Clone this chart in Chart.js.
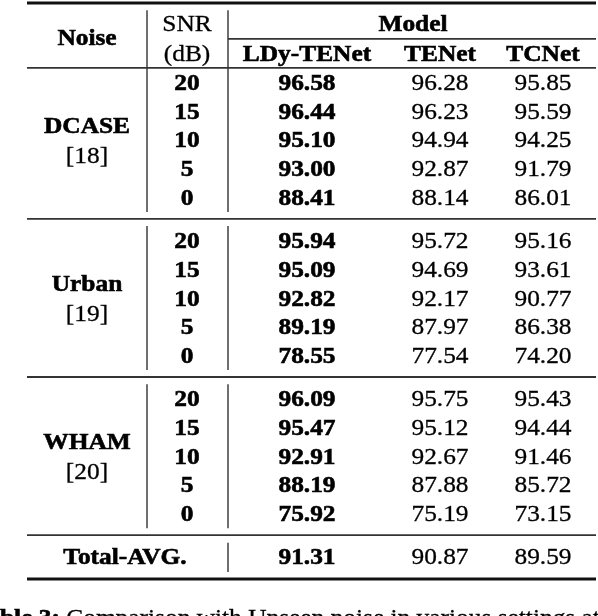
<!DOCTYPE html>
<html>
<head>
<meta charset="utf-8">
<script src="https://cdn.jsdelivr.net/npm/chart.js@4.4.1/dist/chart.umd.min.js"></script>
<style>
  html, body { margin: 0; padding: 0; background: #fff; }
  canvas { display: block; }
</style>
</head>
<body>
<canvas id="tableChart" width="598" height="616"></canvas>
<script>
// table content
const noiseTypes = ['DCASE', 'Urban', 'WHAM'];
const noiseRefs = ['[18]', '[19]', '[20]'];
const snrLevels = ['20', '15', '10', '5', '0'];
const models = ['LDy-TENet', 'TENet', 'TCNet'];
const ldyTenet = [96.58, 96.44, 95.10, 93.00, 88.41, 95.94, 95.09, 92.82, 89.19, 78.55, 96.09, 95.47, 92.91, 88.19, 75.92];
const tenet = [96.28, 96.23, 94.94, 92.87, 88.14, 95.72, 94.69, 92.17, 87.97, 77.54, 95.75, 95.12, 92.67, 87.88, 75.19];
const tcnet = [95.85, 95.59, 94.25, 91.79, 86.01, 95.16, 93.61, 90.77, 86.38, 74.20, 95.43, 94.44, 91.46, 85.72, 73.15];
const totalAvg = [91.31, 90.87, 89.59];
const captionBold = 'Table 3:';
const captionText = ' Comparison with Unseen noise in various settings at different SNRs.';

// layout (x in canvas units, y in row units)
const colX = { noise: 87, snr: 187, ldy: 307, tenet: 440, tcnet: 543, total: 125, model: 413 };
const tableLeft = 27, tableRight = 596, splitA = 147, splitB = 228;
const groupStep = 5.5;
const totalRow = 16.5;
const rowPx = 28.75;
const firstRowPx = 82;
const fontSize = 23.5;
const stretch = 1.08;
const family = '"Liberation Serif", "Times New Roman", serif';

function rowOf(i) {
    return Math.floor(i / 5) * groupStep + (i % 5);
}

function textSet(points, texts, bold) {
    return {
        type: 'scatter',
        data: points,
        texts: texts,
        bold: bold,
        pointRadius: 0,
        showLine: false
    };
}

function ruleSet(x0, x1, y0, y1, width, color) {
    return {
        type: 'line',
        data: [{ x: x0, y: y0 }, { x: x1, y: y1 }],
        borderColor: color,
        borderWidth: width,
        pointRadius: 0,
        clip: false,
        showLine: true
    };
}

const datasets = [];

// horizontal rules
datasets.push(ruleSet(tableLeft, tableRight, -2.75, -2.75, 3, '#111'));
datasets.push(ruleSet(splitB, tableRight, -1.5, -1.5, 1.6, '#333'));
datasets.push(ruleSet(tableLeft, tableRight, -0.49, -0.49, 1.8, '#333'));
[4.76, 10.26, 15.76].forEach(y => datasets.push(ruleSet(tableLeft, tableRight, y, y, 1.8, '#333')));
datasets.push(ruleSet(tableLeft, tableRight, 17.29, 17.29, 3, '#111'));

// vertical rules, broken at group rules
noiseTypes.forEach((n, g) => {
    const top = g === 0 ? -2.5 : g * groupStep - 0.49;
    const bottom = g * groupStep + 4.52;
    datasets.push(ruleSet(splitA, splitA, top, bottom, 1.4, '#333'));
    datasets.push(ruleSet(splitB, splitB, top, bottom, 1.4, '#333'));
});
datasets.push(ruleSet(splitB, splitB, totalRow - 0.47, totalRow + 0.54, 1.4, '#333'));

// header
datasets.push(textSet([{ x: colX.noise, y: -1.58 }], ['Noise'], true));
datasets.push(textSet([{ x: colX.snr, y: -2.05 }, { x: colX.snr, y: -1.02 }], ['SNR', '(dB)'], false));
datasets.push(textSet([{ x: colX.model, y: -2.05 }], ['Model'], true));
datasets.push(textSet([colX.ldy, colX.tenet, colX.tcnet].map(x => ({ x: x, y: -1.02 })), models, true));

// noise group labels
datasets.push(textSet(noiseTypes.map((n, g) => ({ x: colX.noise, y: g * groupStep + 1.5 })), noiseTypes, true));
datasets.push(textSet(noiseRefs.map((n, g) => ({ x: colX.noise, y: g * groupStep + 2.54 })), noiseRefs, false));

// body
const snrCol = ldyTenet.map((v, i) => snrLevels[i % 5]);
datasets.push(textSet(snrCol.map((s, i) => ({ x: colX.snr, y: rowOf(i) })), snrCol, true));
datasets.push(textSet(ldyTenet.map((v, i) => ({ x: colX.ldy, y: rowOf(i) })), ldyTenet.map(v => v.toFixed(2)), true));
datasets.push(textSet(tenet.map((v, i) => ({ x: colX.tenet, y: rowOf(i) })), tenet.map(v => v.toFixed(2)), false));
datasets.push(textSet(tcnet.map((v, i) => ({ x: colX.tcnet, y: rowOf(i) })), tcnet.map(v => v.toFixed(2)), false));

// total row
datasets.push(textSet([{ x: colX.total, y: totalRow }], ['Total-AVG.'], true));
datasets.push(textSet([{ x: colX.ldy, y: totalRow }], [totalAvg[0].toFixed(2)], true));
datasets.push(textSet([colX.tenet, colX.tcnet].map(x => ({ x: x, y: totalRow })), totalAvg.slice(1).map(v => v.toFixed(2)), false));

function drawText(ctx, str, x, y, bold, align) {
    ctx.save();
    ctx.translate(x, y);
    ctx.scale(stretch, 1);
    ctx.font = (bold ? 'bold ' : '') + fontSize + 'px ' + family;
    ctx.fillStyle = '#000';
    ctx.strokeStyle = '#000';
    ctx.lineWidth = bold ? 0.6 : 0.3;
    ctx.textAlign = align || 'center';
    ctx.textBaseline = 'alphabetic';
    ctx.fillText(str, 0, fontSize * 0.34);
    ctx.strokeText(str, 0, fontSize * 0.34);
    ctx.restore();
}

const cellText = {
    id: 'cellText',
    afterDatasetsDraw(chart) {
        const ctx = chart.ctx;
        chart.data.datasets.forEach((ds, di) => {
            if (!ds.texts) return;
            const meta = chart.getDatasetMeta(di);
            meta.data.forEach((pt, i) => drawText(ctx, ds.texts[i], pt.x, pt.y, ds.bold));
        });

        // caption, cut off by the bottom edge
        const y = chart.scales.y.getPixelForValue(18.89) - fontSize * 0.34;
        ctx.save();
        ctx.font = 'bold ' + fontSize + 'px ' + family;
        const skip = ctx.measureText('Ta').width * stretch;
        const boldW = ctx.measureText(captionBold).width * stretch;
        ctx.restore();
        const x0 = chart.scales.x.getPixelForValue(0) - skip;
        drawText(ctx, captionBold, x0, y, true, 'left');
        drawText(ctx, captionText, x0 + boldW, y, false, 'left');
    }
};

function build() {
    new Chart(document.getElementById('tableChart').getContext('2d'), {
        type: 'scatter',
        data: { datasets: datasets },
        options: {
            responsive: false,
            animation: false,
            events: [],
            layout: { padding: 0 },
            plugins: {
                legend: { display: false },
                tooltip: { enabled: false }
            },
            scales: {
                x: { type: 'linear', display: false, min: 0, max: 598 },
                y: {
                    type: 'linear',
                    display: false,
                    reverse: true,
                    min: -firstRowPx / rowPx,
                    max: (616 - firstRowPx) / rowPx
                }
            }
        },
        plugins: [cellText]
    });
}

Promise.all([
    document.fonts.load(fontSize + 'px "Liberation Serif"'),
    document.fonts.load('bold ' + fontSize + 'px "Liberation Serif"')
]).then(build, build);
</script>
</body>
</html>
